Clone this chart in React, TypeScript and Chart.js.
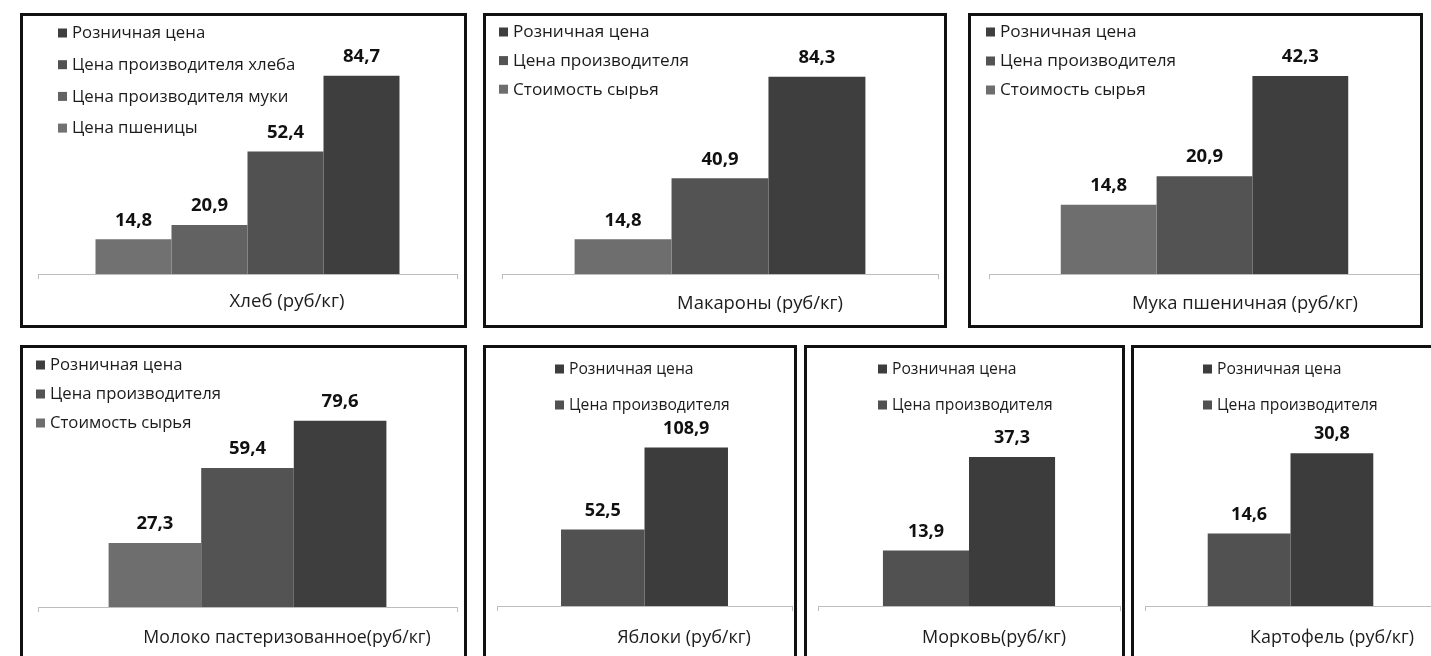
import React, { useEffect, useRef } from "react";
import { Chart, registerables } from "chart.js";

Chart.register(...registerables);

// ---------- DATA ----------
const breadCategory = ["Хлеб (руб/кг)"];
const breadSeries = ["Цена пшеницы", "Цена производителя муки", "Цена производителя хлеба", "Розничная цена"];
const breadValues = [14.8, 20.9, 52.4, 84.7];

const threeSeries = ["Стоимость сырья", "Цена производителя", "Розничная цена"];

const pastaCategory = ["Макароны (руб/кг)"];
const pastaValues = [14.8, 40.9, 84.3];

const flourCategory = ["Мука пшеничная (руб/кг)"];
const flourValues = [14.8, 20.9, 42.3];

const milkCategory = ["Молоко пастеризованное(руб/кг)"];
const milkValues = [27.3, 59.4, 79.6];

const twoSeries = ["Цена производителя", "Розничная цена"];

const applesCategory = ["Яблоки (руб/кг)"];
const applesValues = [52.5, 108.9];

const carrotCategory = ["Морковь(руб/кг)"];
const carrotValues = [13.9, 37.3];

const potatoCategory = ["Картофель (руб/кг)"];
const potatoValues = [14.6, 30.8];

// ---------- STYLE ----------
const colors4 = ["#717171", "#626262", "#515151", "#3e3e3e"];
const colors3 = ["#6e6e6e", "#535353", "#3e3e3e"];
const colors2 = ["#515151", "#3c3c3c"];

const FONT = '"Open Sans", "Noto Sans", sans-serif';

type PanelCfg = {
  box: [number, number, number, number];
  area: [number, number, number, number];
  yMax: number;
  catPct: number;
  legend: { x: number; y: number; step: number; size: number };
  title: { cx: number; cy: number; size: number };
  valueSize: number;
  labels: string[];
  series: string[];
  values: number[];
  colors: string[];
};

const BORDER = 3;
const TICK = 5;

const panels: PanelCfg[] = [
  {
    box: [20, 13, 447, 315],
    area: [38, 40, 457, 274],
    yMax: 100,
    catPct: 0.7255,
    legend: { x: 58, y: 33, step: 31.7, size: 16.8 },
    title: { cx: 287, cy: 302, size: 18.6 },
    valueSize: 18.5,
    labels: breadCategory,
    series: breadSeries,
    values: breadValues,
    colors: colors4,
  },
  {
    box: [483, 13, 464, 315],
    area: [502, 40, 938, 274],
    yMax: 100,
    catPct: 0.667,
    legend: { x: 499, y: 32, step: 28.6, size: 17.2 },
    title: { cx: 760, cy: 304, size: 18.4 },
    valueSize: 18.5,
    labels: pastaCategory,
    series: threeSeries,
    values: pastaValues,
    colors: colors3,
  },
  {
    box: [968, 13, 455, 315],
    area: [989, 40, 1422, 274],
    yMax: 50,
    catPct: 0.667,
    legend: { x: 986, y: 32, step: 29, size: 17.2 },
    title: { cx: 1245, cy: 304, size: 18.4 },
    valueSize: 18.5,
    labels: flourCategory,
    series: threeSeries,
    values: flourValues,
    colors: colors3,
  },
  {
    box: [20, 345, 447, 330],
    area: [38, 373, 457, 607],
    yMax: 100,
    catPct: 0.663,
    legend: { x: 36, y: 365, step: 29, size: 16.7 },
    title: { cx: 287, cy: 638, size: 17.7 },
    valueSize: 18.5,
    labels: milkCategory,
    series: threeSeries,
    values: milkValues,
    colors: colors3,
  },
  {
    box: [483, 345, 314, 330],
    area: [497, 373, 792, 606],
    yMax: 160,
    catPct: 0.566,
    legend: { x: 555, y: 369, step: 36, size: 15.7 },
    title: { cx: 684, cy: 638, size: 18 },
    valueSize: 18,
    labels: applesCategory,
    series: twoSeries,
    values: applesValues,
    colors: colors2,
  },
  {
    box: [804, 345, 321, 330],
    area: [818, 373, 1120, 606],
    yMax: 58.3,
    catPct: 0.57,
    legend: { x: 878, y: 369, step: 36, size: 15.7 },
    title: { cx: 994, cy: 638, size: 18 },
    valueSize: 18,
    labels: carrotCategory,
    series: twoSeries,
    values: carrotValues,
    colors: colors2,
  },
  {
    box: [1131, 345, 330, 330],
    area: [1145, 373, 1436, 606],
    yMax: 47,
    catPct: 0.569,
    legend: { x: 1203, y: 369, step: 36, size: 15.7 },
    title: { cx: 1332, cy: 638, size: 17.9 },
    valueSize: 18,
    labels: potatoCategory,
    series: twoSeries,
    values: potatoValues,
    colors: colors2,
  },
];

// ---------- plugin: value labels, legend, category caption ----------
const annotatePlugin = {
  id: "annotate",
  afterDatasetsDraw(chart: any, _args: any, opts: any) {
    const ctx: CanvasRenderingContext2D = chart.ctx;
    const ox = opts.originX;
    const oy = opts.originY;
    ctx.save();
    // value labels
    ctx.textAlign = "center";
    ctx.textBaseline = "middle";
    ctx.fillStyle = "#111111";
    ctx.font = `bold ${opts.valueSize}px ${FONT}`;
    chart.data.datasets.forEach((ds: any, i: number) => {
      const meta = chart.getDatasetMeta(i);
      meta.data.forEach((bar: any, j: number) => {
        const v = ds.data[j] as number;
        ctx.fillText(v.toFixed(1).replace(".", ","), bar.x, bar.y - 19);
      });
    });
    // legend (reverse order)
    const lg = opts.legend;
    ctx.textAlign = "left";
    ctx.font = `${lg.size}px ${FONT}`;
    const n = chart.data.datasets.length;
    for (let k = 0; k < n; k++) {
      const ds = chart.data.datasets[n - 1 - k];
      const cy = lg.y - oy + k * lg.step;
      const sx = lg.x - ox;
      ctx.fillStyle = ds.backgroundColor;
      ctx.fillRect(sx, cy - 4.5, 9, 9);
      ctx.fillStyle = "#1c1c1c";
      ctx.fillText(ds.label, sx + 14, cy + 0.5);
    }
    // category caption
    const t = opts.title;
    ctx.textAlign = "center";
    ctx.fillStyle = "#1c1c1c";
    ctx.font = `${t.size}px ${FONT}`;
    ctx.fillText(chart.data.labels[0], t.cx - ox, t.cy - oy);
    ctx.restore();
  },
};

function Panel({ cfg }: { cfg: PanelCfg }) {
  const ref = useRef<HTMLCanvasElement | null>(null);
  const [bx, by, bw, bh] = cfg.box;
  const cw = bw - 2 * BORDER;
  const ch = bh - 2 * BORDER;
  const ox = bx + BORDER;
  const oy = by + BORDER;

  useEffect(() => {
    if (!ref.current) return;
    const [al, at, ar, ab] = cfg.area;
    const chart = new Chart(ref.current, {
      type: "bar",
      data: {
        labels: cfg.labels,
        datasets: cfg.series.map((name, i) => ({
          label: name,
          data: [cfg.values[i]],
          backgroundColor: cfg.colors[i],
          borderWidth: 0,
          barPercentage: 1,
          categoryPercentage: cfg.catPct,
        })),
      },
      options: {
        animation: false,
        responsive: false,
        layout: {
          padding: {
            left: al - ox,
            top: at - oy,
            right: ox + cw - ar,
            bottom: oy + ch - ab - TICK,
          },
        },
        plugins: {
          legend: { display: false },
          tooltip: { enabled: false },
          annotate: {
            originX: ox,
            originY: oy,
            legend: cfg.legend,
            title: cfg.title,
            valueSize: cfg.valueSize,
          },
        } as any,
        scales: {
          x: {
            grid: {
              display: true,
              offset: true,
              drawOnChartArea: false,
              tickLength: TICK,
              color: "#bdbdbd",
            },
            border: { display: true, color: "#bdbdbd", width: 1 },
            ticks: { display: false },
          },
          y: { display: false, min: 0, max: cfg.yMax },
        },
      },
      plugins: [annotatePlugin],
    });
    return () => chart.destroy();
  }, []);

  return (
    <div
      style={{
        position: "absolute",
        left: bx,
        top: by,
        width: bw,
        height: bh,
        border: `${BORDER}px solid #111`,
        boxSizing: "border-box",
        background: "#fff",
      }}
    >
      <canvas ref={ref} width={cw} height={ch} style={{ position: "absolute", left: 0, top: 0, width: cw, height: ch }} />
    </div>
  );
}

export default function App() {
  return (
    <div
      style={{
        position: "absolute",
        left: 0,
        top: 0,
        width: 1431,
        height: 656,
        overflow: "hidden",
        background: "#fff",
      }}
    >
      {panels.map((p, i) => (
        <Panel key={i} cfg={p} />
      ))}
    </div>
  );
}
